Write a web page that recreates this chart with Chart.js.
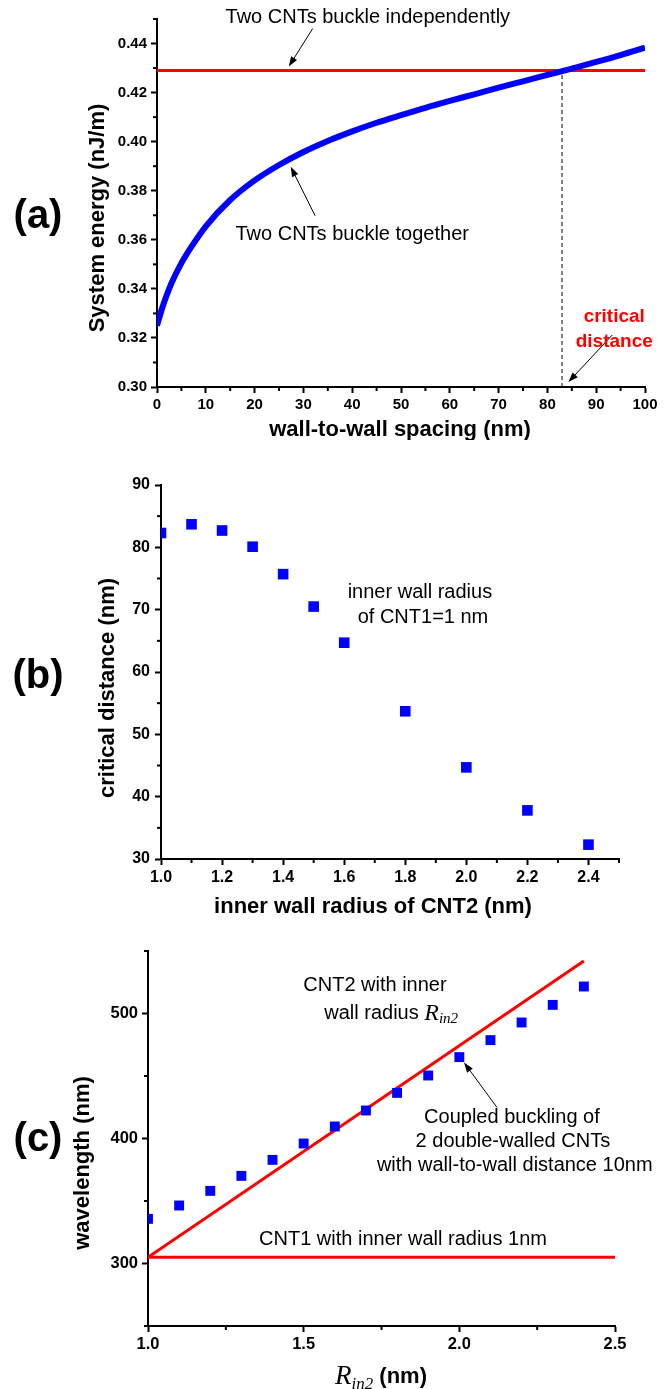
<!DOCTYPE html>
<html>
<head>
<meta charset="utf-8">
<script src="https://cdn.jsdelivr.net/npm/chart.js@4.4.0/dist/chart.umd.min.js"></script>
<style>
  html, body { margin: 0; padding: 0; background: #fff; }
  #wrap { position: relative; width: 667px; height: 1389px; }
  canvas { position: absolute; left: 0; }
</style>
</head>
<body>
<div id="wrap">
  <canvas id="chartA" width="667" height="440" style="top:0px"></canvas>
  <canvas id="chartB" width="667" height="480" style="top:440px"></canvas>
  <canvas id="chartC" width="667" height="469" style="top:920px"></canvas>
</div>
<script>
// (a) system energy vs wall-to-wall spacing
const spacing = [0, 1, 2, 3, 5, 7, 10, 15, 20, 25, 30, 35, 40, 45, 50, 55, 60, 65, 70, 75, 80, 85, 90, 95, 100];
const energy = [0.325, 0.3318, 0.3375, 0.3425, 0.3505, 0.357, 0.3655, 0.3762, 0.3842, 0.3905, 0.3958, 0.4003, 0.4042,
                0.4077, 0.4108, 0.4138, 0.4166, 0.4193, 0.4220, 0.4246, 0.4272, 0.4298, 0.4325, 0.4353, 0.4383];
const independentEnergy = [0.429, 0.429];
const independentX = [0, 100];
const criticalSpacing = 83;
const ticksAX = [0, 10, 20, 30, 40, 50, 60, 70, 80, 90, 100];
const minorAX = [5, 15, 25, 35, 45, 55, 65, 75, 85, 95];
const ticksAY = [0.30, 0.32, 0.34, 0.36, 0.38, 0.40, 0.42, 0.44];
const minorAY = [0.31, 0.33, 0.35, 0.37, 0.39, 0.41, 0.43, 0.45];

// (b) critical distance vs inner wall radius of CNT2
const radiusB = [1.0, 1.1, 1.2, 1.3, 1.4, 1.5, 1.6, 1.8, 2.0, 2.2, 2.4];
const criticalDist = [82.3, 83.7, 82.7, 80.1, 75.7, 70.5, 64.7, 53.7, 44.7, 37.8, 32.3];
const ticksBX = [1.0, 1.2, 1.4, 1.6, 1.8, 2.0, 2.2, 2.4];
const minorBX = [1.1, 1.3, 1.5, 1.7, 1.9, 2.1, 2.3, 2.5];
const ticksBY = [30, 40, 50, 60, 70, 80, 90];
const minorBY = [35, 45, 55, 65, 75, 85];

// (c) wavelength vs R_in2
const radiusC = [1.0, 1.1, 1.2, 1.3, 1.4, 1.5, 1.6, 1.7, 1.8, 1.9, 2.0, 2.1, 2.2, 2.3, 2.4];
const wavelength = [335.7, 346.4, 358.1, 370.1, 382.9, 396.0, 409.6, 422.4, 436.5, 450.4, 465.1, 478.7, 492.8, 506.9, 521.6];
const cnt2X = [1.0, 2.4];
const cnt2Y = [305, 542];
const cnt1X = [1.0, 2.5];
const cnt1Y = [305, 305];
const ticksCX = [1.0, 1.5, 2.0, 2.5];
const minorCX = [1.25, 1.75, 2.25];
const ticksCY = [300, 400, 500];
const minorCY = [250, 350, 450, 550];

const SANS = '"Liberation Sans", Arial, sans-serif';
const SERIF = '"Liberation Serif", "Times New Roman", serif';

function pts(xs, ys) { return xs.map((x, i) => ({x: x, y: ys[i]})); }

function drawRuns(ctx, runs, cx, cy, align) {
  let w = 0;
  runs.forEach(r => { ctx.font = r.f; w += ctx.measureText(r.t).width; });
  let x = align === 'left' ? cx : cx - w / 2;
  runs.forEach(r => {
    ctx.font = r.f;
    ctx.fillText(r.t, x, cy + (r.dy || 0));
    x += ctx.measureText(r.t).width;
  });
}

function arrow(ctx, x1, y1, x2, y2) {
  const a = Math.atan2(y2 - y1, x2 - x1);
  const hl = 10, hw = 3.5;
  ctx.beginPath();
  ctx.moveTo(x1, y1);
  ctx.lineTo(x2 - Math.cos(a) * hl * 0.8, y2 - Math.sin(a) * hl * 0.8);
  ctx.stroke();
  ctx.beginPath();
  ctx.moveTo(x2, y2);
  ctx.lineTo(x2 - Math.cos(a) * hl - Math.sin(a) * hw, y2 - Math.sin(a) * hl + Math.cos(a) * hw);
  ctx.lineTo(x2 - Math.cos(a) * hl + Math.sin(a) * hw, y2 - Math.sin(a) * hl - Math.cos(a) * hw);
  ctx.closePath();
  ctx.fill();
}

// minor ticks, annotations, arrows, titles
const decor = {
  id: 'decor',
  afterDraw(chart, args, o) {
    const {ctx, scales: {x, y}, chartArea} = chart;
    ctx.save();
    ctx.strokeStyle = '#000';
    ctx.fillStyle = '#000';
    ctx.lineWidth = 2;
    (o.minorX || []).forEach(v => {
      const px = x.getPixelForValue(v);
      ctx.beginPath(); ctx.moveTo(px, chartArea.bottom); ctx.lineTo(px, chartArea.bottom + 4); ctx.stroke();
    });
    (o.minorY || []).forEach(v => {
      const py = y.getPixelForValue(v);
      ctx.beginPath(); ctx.moveTo(chartArea.left, py); ctx.lineTo(chartArea.left - 4, py); ctx.stroke();
    });
    ctx.lineWidth = 1;
    (o.arrows || []).forEach(a => {
      arrow(ctx, x.getPixelForValue(a[0]), y.getPixelForValue(a[1]), x.getPixelForValue(a[2]), y.getPixelForValue(a[3]));
    });
    ctx.textBaseline = 'middle';
    (o.notes || []).forEach(n => {
      ctx.fillStyle = n.color || '#000';
      drawRuns(ctx, n.runs, x.getPixelForValue(n.x), y.getPixelForValue(n.y), 'center');
    });
    ctx.fillStyle = '#000';
    (o.fixed || []).forEach(n => {
      ctx.save();
      ctx.translate(n.px, n.py);
      if (n.rot) ctx.rotate(-Math.PI / 2);
      drawRuns(ctx, n.runs, 0, 0, 'center');
      ctx.restore();
    });
    ctx.restore();
  }
};

function axis(min, max, ticks, fmt, size, pad, fit) {
  return {
    type: 'linear', min: min, max: max,
    afterBuildTicks: s => { s.ticks = ticks.map(v => ({value: v})); },
    afterFit: fit,
    grid: {display: true, drawOnChartArea: false, drawTicks: true, tickLength: 6, tickWidth: 2, tickColor: '#000', color: '#000'},
    border: {display: true, color: '#000', width: 2},
    ticks: {autoSkip: false, maxRotation: 0, color: '#000', padding: pad,
            font: {family: 'Liberation Sans', size: size, weight: 'bold'}, callback: fmt}
  };
}

const bold22 = 'bold 22px ' + SANS;
const note20 = '20px ' + SANS;

// ---------- (a) ----------
new Chart(document.getElementById('chartA'), {
  type: 'line',
  data: {
    datasets: [
      {data: pts(spacing, energy), borderColor: '#0000ff', borderWidth: 6, pointRadius: 0, cubicInterpolationMode: 'monotone'},
      {data: pts(independentX, independentEnergy), borderColor: '#ff0000', borderWidth: 3, pointRadius: 0},
      {data: pts([criticalSpacing, criticalSpacing], [0.30, independentEnergy[0]]), borderColor: '#000', borderWidth: 1, borderDash: [4, 3], pointRadius: 0}
    ]
  },
  options: {
    responsive: false, animation: false,
    layout: {padding: {left: 0, right: 22, top: 19, bottom: 0}},
    plugins: {
      legend: {display: false}, tooltip: {enabled: false},
      decor: {
        minorX: minorAX, minorY: minorAY,
        arrows: [[31.9, 0.4461, 27.0, 0.4306], [32.4, 0.3698, 27.4, 0.3898], [93.3, 0.3212, 84.3, 0.302]],
        notes: [
          {x: 43.2, y: 0.4505, runs: [{t: 'Two CNTs buckle independently', f: note20}]},
          {x: 40, y: 0.362, runs: [{t: 'Two CNTs buckle together', f: note20}]},
          {x: 93.7, y: 0.3286, color: '#ff0000', runs: [{t: 'critical', f: 'bold 19px ' + SANS}]},
          {x: 93.7, y: 0.3184, color: '#ff0000', runs: [{t: 'distance', f: 'bold 19px ' + SANS}]}
        ],
        fixed: [
          {px: 38, py: 217, runs: [{t: '(a)', f: 'bold 40px ' + SANS}]},
          {px: 98, py: 218, rot: true, runs: [{t: 'System energy (nJ/m)', f: bold22}]},
          {px: 400, py: 430, runs: [{t: 'wall-to-wall spacing (nm)', f: bold22}]}
        ]
      }
    },
    scales: {
      x: axis(0, 100, ticksAX, v => v, 15, 3, s => { s.height = 53; }),
      y: axis(0.30, 0.45, ticksAY, v => v.toFixed(2), 15, 4, s => { s.width = 157; })
    }
  },
  plugins: [decor]
});

// ---------- (b) ----------
new Chart(document.getElementById('chartB'), {
  type: 'scatter',
  data: {
    datasets: [
      {data: pts(radiusB, criticalDist), backgroundColor: '#0000ff', borderWidth: 0, pointStyle: 'rect', pointRadius: 7.5}
    ]
  },
  options: {
    responsive: false, animation: false,
    layout: {padding: {left: 0, right: 48, top: 45, bottom: 0}},
    plugins: {
      legend: {display: false}, tooltip: {enabled: false},
      decor: {
        minorX: minorBX, minorY: minorBY,
        notes: [
          {x: 1.848, y: 72.7, runs: [{t: 'inner wall radius', f: note20}]},
          {x: 1.858, y: 68.8, runs: [{t: 'of CNT1=1 nm', f: note20}]}
        ],
        fixed: [
          {px: 38, py: 237, runs: [{t: '(b)', f: 'bold 40px ' + SANS}]},
          {px: 108, py: 248, rot: true, runs: [{t: 'critical distance (nm)', f: bold22}]},
          {px: 373, py: 467, runs: [{t: 'inner wall radius of CNT2 (nm)', f: bold22}]}
        ]
      }
    },
    scales: {
      x: axis(1.0, 2.5, ticksBX, v => v.toFixed(1), 16, 3, s => { s.height = 61; }),
      y: axis(30, 90, ticksBY, v => v, 16, 5, s => { s.width = 161; })
    }
  },
  plugins: [decor]
});

// ---------- (c) ----------
new Chart(document.getElementById('chartC'), {
  type: 'scatter',
  data: {
    datasets: [
      {data: pts(radiusC, wavelength), backgroundColor: '#0000ff', borderWidth: 0, pointStyle: 'rect', pointRadius: 7},
      {data: pts(cnt2X, cnt2Y), showLine: true, borderColor: '#ff0000', borderWidth: 3, pointRadius: 0},
      {data: pts(cnt1X, cnt1Y), showLine: true, borderColor: '#ff0000', borderWidth: 3, pointRadius: 0}
    ]
  },
  options: {
    responsive: false, animation: false,
    layout: {padding: {left: 0, right: 52, top: 31, bottom: 0}},
    plugins: {
      legend: {display: false}, tooltip: {enabled: false},
      decor: {
        minorX: minorCX, minorY: minorCY,
        arrows: [[2.121, 424.8, 2.015, 460.8]],
        notes: [
          {x: 1.729, y: 522.4, runs: [{t: 'CNT2 with inner', f: note20}]},
          {x: 1.781, y: 500, runs: [{t: 'wall radius ', f: note20}, {t: 'R', f: 'italic 24px ' + SERIF}, {t: 'in2', f: 'italic 15px ' + SERIF, dy: 6}]},
          {x: 2.169, y: 416.8, runs: [{t: 'Coupled buckling of', f: note20}]},
          {x: 2.172, y: 397.6, runs: [{t: '2 double-walled CNTs', f: note20}]},
          {x: 2.178, y: 378.4, runs: [{t: 'with wall-to-wall distance 10nm', f: note20}]},
          {x: 1.819, y: 319.2, runs: [{t: 'CNT1 with inner wall radius 1nm', f: note20}]}
        ],
        fixed: [
          {px: 38, py: 220, runs: [{t: '(c)', f: 'bold 40px ' + SANS}]},
          {px: 83, py: 243, rot: true, runs: [{t: 'wavelength (nm)', f: bold22}]},
          {px: 381, py: 457, runs: [{t: 'R', f: 'italic 27px ' + SERIF}, {t: 'in2', f: 'italic 17px ' + SERIF, dy: 8}, {t: ' (nm)', f: bold22}]}
        ]
      }
    },
    scales: {
      x: axis(1.0, 2.5, ticksCX, v => v.toFixed(1), 16.5, 3, s => { s.height = 63; }),
      y: axis(250, 550, ticksCY, v => v, 16.5, 4, s => { s.width = 148; })
    }
  },
  plugins: [decor]
});
</script>
</body>
</html>
